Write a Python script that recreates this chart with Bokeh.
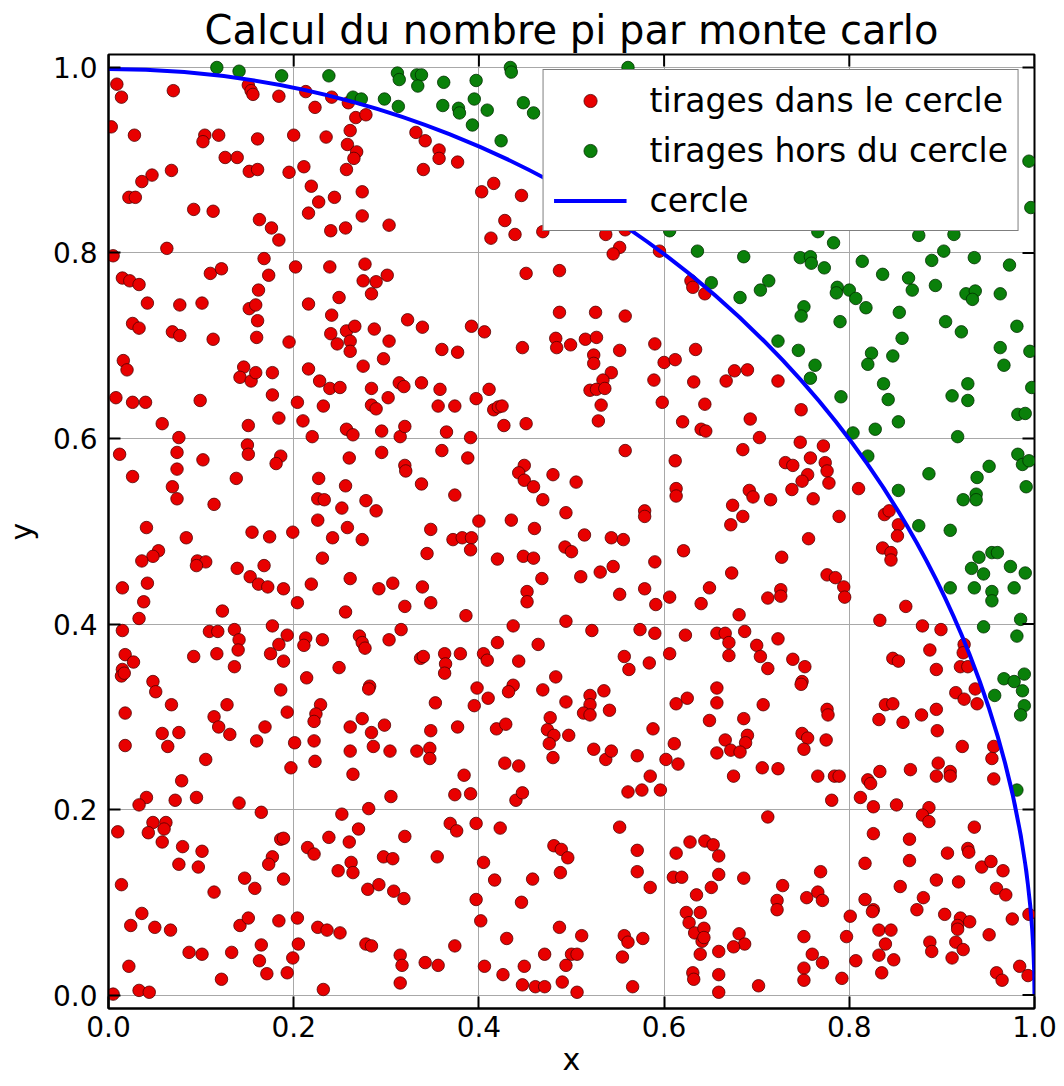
import math
from bokeh.plotting import figure
from bokeh.models import Range1d, FixedTicker
from bokeh.embed import file_html
from bokeh.resources import INLINE

title_text = "Calcul du nombre pi par monte carlo"
x_label = "x"
y_label = "y"
tick_values = [0.0, 0.2, 0.4, 0.6, 0.8, 1.0]
tick_labels = ["0.0", "0.2", "0.4", "0.6", "0.8", "1.0"]
label_in = "tirages dans le cercle"
label_out = "tirages hors du cercle"
label_circle = "cercle"
circle_center = [0.0, 0.0]
circle_radius = 1.0
x_limits = [0.0, 1.0]
y_limits = [-0.0145, 1.0140]

# draws inside the quarter circle (x, y)
inside_points = [
    (0.009,0.982),(0.014,0.968),(0.003,0.936),(0.070,0.975),(0.151,0.981),(0.154,0.975),(0.156,0.971),(0.184,0.969),
    (0.213,0.974),(0.241,0.968),(0.259,0.962),(0.223,0.957),(0.267,0.946),(0.278,0.949),(0.028,0.927),(0.104,0.927),
    (0.102,0.920),(0.119,0.927),(0.161,0.923),(0.200,0.927),(0.235,0.925),(0.261,0.932),(0.258,0.917),(0.268,0.909),
    (0.265,0.902),(0.126,0.903),(0.139,0.903),(0.152,0.888),(0.161,0.890),(0.195,0.887),(0.211,0.893),(0.257,0.890),
    (0.068,0.889),(0.047,0.884),(0.036,0.877),(0.022,0.860),(0.029,0.860),(0.092,0.847),(0.113,0.845),(0.219,0.872),
    (0.244,0.860),(0.274,0.866),(0.227,0.855),(0.216,0.843),(0.163,0.836),(0.176,0.827),(0.184,0.814),(0.240,0.824),
    (0.256,0.827),(0.274,0.840),(0.303,0.830),(0.063,0.805),(0.005,0.797),(0.168,0.794),(0.202,0.785),
    (0.239,0.785),(0.277,0.788),(0.110,0.778),(0.122,0.783),(0.173,0.776),(0.301,0.776),(0.275,0.770),(0.289,0.769),
    (0.015,0.773),(0.023,0.770),(0.033,0.766),(0.162,0.760),(0.284,0.756),(0.249,0.752),
    (0.332,0.930),(0.342,0.921),(0.357,0.911),(0.357,0.902),(0.377,0.898),(0.340,0.890),(0.416,0.875),(0.403,0.866),
    (0.446,0.862),(0.428,0.835),(0.413,0.816),(0.439,0.820),(0.469,0.823),(0.537,0.820),(0.558,0.825),(0.552,0.806),
    (0.545,0.799),(0.595,0.802),(0.451,0.778),(0.487,0.781),(0.629,0.770),(0.631,0.763),(0.644,0.756),
    (0.042,0.746),(0.077,0.744),(0.101,0.746),(0.152,0.740),(0.159,0.744),(0.216,0.745),
    (0.026,0.724),(0.033,0.719),(0.069,0.715),(0.077,0.711),(0.113,0.707),(0.161,0.727),(0.160,0.709),(0.195,0.704),
    (0.241,0.733),(0.240,0.713),(0.257,0.716),(0.266,0.721),(0.247,0.702),(0.261,0.705),(0.261,0.694),(0.287,0.718),
    (0.303,0.705),(0.323,0.728),
    (0.016,0.684),(0.020,0.674),(0.146,0.677),(0.142,0.666),(0.154,0.662),(0.159,0.671),(0.177,0.671),(0.216,0.675),
    (0.228,0.662),(0.239,0.654),(0.250,0.655),(0.275,0.678),(0.297,0.686),(0.314,0.660),(0.319,0.656),
    (0.008,0.644),(0.026,0.639),(0.040,0.639),(0.099,0.641),(0.177,0.647),(0.204,0.639),(0.232,0.635),(0.284,0.654),
    (0.302,0.644),(0.284,0.636),(0.289,0.632),
    (0.058,0.616),(0.151,0.614),(0.184,0.622),(0.210,0.619),(0.220,0.602),(0.257,0.610),(0.264,0.604),(0.295,0.608),
    (0.315,0.602),(0.320,0.613),(0.076,0.601),
    (0.012,0.583),(0.074,0.585),(0.102,0.577),(0.150,0.593),(0.151,0.583),(0.186,0.581),(0.181,0.573),(0.260,0.579),
    (0.295,0.585),(0.320,0.571),(0.321,0.565),
    (0.026,0.559),(0.074,0.567),(0.138,0.557),(0.227,0.557),(0.256,0.549),(0.069,0.548),(0.074,0.535),(0.114,0.529),
    (0.226,0.535),(0.233,0.534),(0.252,0.525),(0.278,0.533),(0.289,0.522),
    (0.041,0.504),(0.226,0.512),(0.258,0.504),(0.084,0.493),(0.155,0.499),(0.174,0.494),(0.199,0.499),(0.242,0.493),
    (0.274,0.491),
    (0.339,0.720),(0.392,0.721),(0.406,0.715),(0.360,0.696),(0.377,0.693),(0.447,0.698),(0.487,0.736),(0.526,0.736),
    (0.558,0.732),(0.483,0.708),(0.484,0.698),(0.499,0.701),(0.515,0.707),(0.527,0.709),(0.552,0.695),(0.590,0.702),
    (0.634,0.696),(0.524,0.690),(0.524,0.681),(0.543,0.671),(0.534,0.663),(0.520,0.652),(0.527,0.653),(0.536,0.654),
    (0.532,0.636),(0.529,0.619),(0.600,0.682),(0.612,0.685),(0.589,0.663),(0.598,0.639),(0.632,0.661),
    (0.644,0.637),(0.620,0.618),(0.640,0.610),(0.645,0.608),(0.338,0.660),(0.358,0.653),(0.356,0.635),(0.374,0.635),
    (0.397,0.643),(0.411,0.653),(0.416,0.631),(0.421,0.634),(0.425,0.635),(0.427,0.614),(0.451,0.616),(0.365,0.607),
    (0.391,0.601),(0.360,0.587),(0.388,0.579),(0.558,0.587),(0.612,0.576),(0.338,0.551),(0.374,0.539),(0.449,0.571),
    (0.443,0.563),(0.449,0.555),(0.459,0.548),(0.480,0.561),(0.505,0.553),(0.469,0.534),(0.494,0.520),(0.579,0.522),
    (0.579,0.516),(0.613,0.546),(0.613,0.538),(0.348,0.502),(0.400,0.511),(0.435,0.512),(0.460,0.503),(0.372,0.491),
    (0.382,0.493),(0.392,0.493),(0.514,0.496),(0.543,0.493),(0.556,0.491),
    (0.676,0.673),(0.690,0.674),(0.667,0.662),(0.723,0.662),(0.748,0.631),(0.693,0.621),(0.703,0.601),
    (0.685,0.588),(0.747,0.596),(0.772,0.592),(0.731,0.574),(0.739,0.571),(0.758,0.579),(0.774,0.574),(0.776,0.565),
    (0.778,0.552),(0.755,0.561),(0.749,0.554),(0.738,0.545),(0.692,0.544),(0.696,0.537),(0.715,0.534),(0.761,0.535),
    (0.810,0.546),(0.674,0.528),(0.685,0.516),(0.672,0.507),(0.789,0.516),(0.838,0.518),(0.843,0.522),(0.853,0.507),
    (0.852,0.495),(0.756,0.492),
    (0.054,0.479),(0.048,0.473),(0.036,0.468),(0.096,0.468),(0.105,0.467),(0.095,0.463),(0.139,0.460),(0.168,0.463),
    (0.231,0.471),(0.153,0.451),(0.162,0.443),(0.172,0.440),(0.189,0.438),(0.219,0.443),(0.261,0.449),(0.292,0.438),
    (0.307,0.444),(0.015,0.439),(0.042,0.444),(0.038,0.424),(0.033,0.406),(0.123,0.414),(0.204,0.423),(0.256,0.413),
    (0.320,0.419),
    (0.015,0.393),(0.109,0.392),(0.118,0.392),(0.136,0.394),(0.177,0.398),(0.193,0.388),(0.141,0.383),(0.140,0.372),
    (0.184,0.378),(0.175,0.368),(0.189,0.360),(0.213,0.385),(0.211,0.377),(0.231,0.383),(0.271,0.387),(0.274,0.380),
    (0.277,0.374),(0.303,0.383),(0.316,0.394),
    (0.018,0.367),(0.027,0.359),(0.092,0.365),(0.117,0.368),(0.136,0.354),(0.015,0.351),(0.014,0.344),(0.017,0.347),
    (0.249,0.353),(0.048,0.338),(0.051,0.327),(0.186,0.329),(0.214,0.342),(0.282,0.333),(0.281,0.330),
    (0.068,0.313),(0.128,0.313),(0.018,0.304),(0.114,0.300),(0.193,0.305),(0.229,0.313),(0.224,0.303),(0.222,0.295),
    (0.274,0.298),(0.058,0.282),(0.076,0.283),(0.119,0.289),(0.131,0.281),(0.169,0.289),(0.160,0.274),(0.201,0.272),
    (0.222,0.274),(0.261,0.289),(0.284,0.283),(0.298,0.291),
    (0.018,0.269),(0.064,0.268),(0.286,0.268),(0.261,0.263),(0.304,0.263),(0.105,0.254),(0.223,0.252),(0.197,0.245),
    (0.264,0.238),(0.079,0.231),
    (0.391,0.480),(0.344,0.476),(0.420,0.470),(0.448,0.473),(0.459,0.471),(0.493,0.483),(0.500,0.478),(0.621,0.479),
    (0.590,0.467),(0.468,0.449),(0.510,0.451),(0.531,0.456),(0.545,0.462),(0.339,0.440),(0.348,0.423),(0.386,0.409),
    (0.452,0.435),(0.452,0.424),(0.552,0.432),(0.579,0.438),(0.591,0.421),(0.606,0.429),(0.649,0.439),(0.640,0.422),
    (0.437,0.398),(0.494,0.403),(0.522,0.393),(0.574,0.394),(0.590,0.390),(0.623,0.388),(0.657,0.390),(0.420,0.380),
    (0.464,0.378),(0.337,0.363),(0.340,0.365),(0.363,0.368),(0.364,0.357),(0.363,0.347),(0.380,0.368),(0.405,0.368),
    (0.409,0.361),(0.443,0.360),(0.557,0.365),(0.562,0.351),(0.584,0.358),(0.606,0.368),
    (0.483,0.343),(0.398,0.331),(0.410,0.320),(0.437,0.334),(0.432,0.327),(0.469,0.329),(0.535,0.328),(0.520,0.323),
    (0.520,0.313),(0.513,0.304),(0.520,0.302),(0.541,0.307),(0.494,0.316),(0.353,0.315),(0.395,0.312),(0.613,0.314),
    (0.625,0.320),(0.657,0.331),(0.657,0.315),
    (0.348,0.285),(0.377,0.289),(0.419,0.287),(0.429,0.292),(0.477,0.299),(0.474,0.286),(0.481,0.280),(0.497,0.280),
    (0.476,0.271),(0.588,0.287),(0.649,0.296),(0.333,0.263),(0.347,0.266),(0.347,0.255),(0.428,0.250),(0.443,0.247),
    (0.480,0.256),(0.524,0.265),(0.537,0.254),(0.543,0.263),(0.571,0.258),(0.602,0.254),(0.615,0.249),(0.611,0.271),
    (0.657,0.261),(0.384,0.237),(0.585,0.236),
    (0.727,0.472),(0.673,0.455),(0.776,0.453),(0.785,0.450),(0.794,0.440),(0.795,0.429),(0.712,0.428),(0.726,0.437),
    (0.726,0.430),(0.681,0.410),(0.836,0.482),(0.845,0.477),(0.845,0.469),(0.861,0.419),(0.833,0.404),(0.879,0.398),
    (0.899,0.394),(0.924,0.378),
    (0.666,0.390),(0.670,0.380),(0.670,0.366),(0.687,0.392),(0.700,0.377),(0.704,0.365),(0.712,0.352),(0.723,0.384),
    (0.739,0.362),(0.752,0.354),(0.749,0.338),(0.748,0.335),(0.847,0.363),(0.853,0.360),(0.887,0.372),(0.923,0.369),
    (0.920,0.354),(0.928,0.354),(0.894,0.351),(0.936,0.330),(0.915,0.326),(0.924,0.319),(0.938,0.314),
    (0.707,0.313),(0.839,0.313),(0.847,0.314),(0.832,0.297),(0.858,0.294),(0.878,0.302),(0.894,0.308),(0.776,0.308),
    (0.777,0.302),(0.686,0.298),(0.666,0.275),(0.690,0.280),(0.688,0.272),(0.672,0.264),(0.682,0.262),(0.749,0.282),
    (0.755,0.277),(0.751,0.265),(0.775,0.275),(0.895,0.285),(0.922,0.268),(0.956,0.268),(0.954,0.255),
    (0.706,0.245),(0.723,0.244),(0.675,0.236),(0.766,0.236),(0.784,0.236),(0.789,0.236),(0.833,0.241),(0.866,0.243),
    (0.896,0.250),(0.909,0.241),(0.909,0.236),(0.956,0.233),(0.820,0.232),(0.894,0.236),
    (0.041,0.213),(0.033,0.205),(0.072,0.210),(0.095,0.213),(0.141,0.207),(0.165,0.197),(0.305,0.214),(0.281,0.201),
    (0.252,0.195),(0.010,0.176),(0.048,0.186),(0.062,0.186),(0.060,0.179),(0.043,0.175),(0.058,0.165),(0.080,0.160),
    (0.101,0.155),(0.076,0.141),(0.097,0.138),(0.186,0.168),(0.189,0.169),(0.177,0.149),(0.173,0.141),(0.215,0.159),
    (0.222,0.152),(0.238,0.170),(0.260,0.165),(0.270,0.179),(0.320,0.171),(0.262,0.143),(0.248,0.134),(0.264,0.132),
    (0.297,0.149),(0.307,0.147),
    (0.014,0.119),(0.114,0.111),(0.147,0.126),(0.158,0.115),(0.189,0.125),(0.280,0.114),(0.292,0.119),(0.308,0.112),
    (0.319,0.104),(0.036,0.088),(0.024,0.075),(0.050,0.073),(0.067,0.070),(0.142,0.075),(0.151,0.083),(0.184,0.080),
    (0.204,0.083),(0.226,0.073),(0.236,0.070),(0.250,0.067),(0.278,0.055),(0.284,0.053),
    (0.087,0.046),(0.101,0.044),(0.133,0.046),(0.165,0.054),(0.163,0.037),(0.199,0.040),(0.205,0.055),(0.315,0.043),
    (0.317,0.032),(0.022,0.031),(0.122,0.017),(0.171,0.023),(0.193,0.024),(0.315,0.013),(0.033,0.005),(0.044,0.003),
    (0.232,0.006),(0.005,0.001),
    (0.374,0.216),(0.391,0.217),(0.440,0.210),(0.447,0.218),(0.561,0.219),(0.576,0.221),(0.596,0.221),(0.369,0.185),
    (0.376,0.177),(0.397,0.185),(0.423,0.180),(0.552,0.181),(0.355,0.149),(0.405,0.143),(0.481,0.161),(0.489,0.157),
    (0.496,0.148),(0.488,0.132),(0.417,0.124),(0.458,0.125),(0.571,0.156),(0.571,0.133),(0.585,0.116),(0.397,0.103),
    (0.446,0.100),(0.402,0.080),(0.487,0.073),(0.511,0.064),(0.430,0.061),(0.557,0.064),(0.561,0.057),(0.577,0.061),
    (0.374,0.053),(0.471,0.044),(0.500,0.044),(0.506,0.044),(0.555,0.041),(0.494,0.032),(0.449,0.031),(0.342,0.035),
    (0.356,0.032),(0.406,0.031),(0.426,0.022),(0.447,0.011),(0.461,0.009),(0.471,0.009),(0.490,0.014),(0.506,0.003),
    (0.566,0.009),
    (0.613,0.153),(0.628,0.165),(0.644,0.166),(0.653,0.162),(0.659,0.150),(0.610,0.127),(0.619,0.127),(0.659,0.130),
    (0.635,0.108),(0.651,0.116),(0.624,0.089),(0.627,0.078),(0.639,0.089),(0.633,0.067),(0.643,0.072),(0.641,0.058),
    (0.643,0.062),(0.639,0.044),(0.659,0.047),(0.631,0.024),(0.632,0.017),(0.659,0.022),(0.659,0.003),
    (0.823,0.228),(0.781,0.210),(0.812,0.213),(0.826,0.203),(0.851,0.205),(0.886,0.202),(0.879,0.194),(0.886,0.187),
    (0.712,0.192),(0.935,0.181),(0.826,0.174),(0.865,0.168),(0.906,0.153),(0.928,0.158),(0.929,0.154),
    (0.817,0.142),(0.865,0.145),(0.943,0.138),(0.953,0.144),(0.966,0.134),(0.686,0.126),(0.769,0.133),
    (0.728,0.118),(0.855,0.117),(0.894,0.124),(0.918,0.122),(0.959,0.115),(0.969,0.108),
    (0.722,0.102),(0.722,0.092),(0.754,0.105),(0.766,0.111),(0.771,0.102),(0.817,0.103),(0.826,0.092),(0.825,0.090),
    (0.880,0.105),(0.873,0.092),(0.903,0.087),(0.920,0.083),(0.917,0.075),(0.930,0.079),(0.917,0.071),(0.976,0.082),
    (0.801,0.085),(0.797,0.063),(0.832,0.070),(0.845,0.070),(0.839,0.055),(0.681,0.066),(0.687,0.055),(0.675,0.052),
    (0.751,0.063),(0.887,0.057),(0.889,0.047),(0.915,0.057),(0.923,0.049),(0.951,0.065),(0.760,0.044),(0.771,0.035),
    (0.807,0.037),(0.832,0.043),(0.848,0.038),(0.911,0.040),(0.751,0.029),(0.751,0.016),(0.792,0.018),(0.835,0.024),
    (0.702,0.010),(0.959,0.024),(0.965,0.016),(0.984,0.031),(0.993,0.021),(0.994,0.087),
]

# draws outside the quarter circle (x, y)
outside_points = [
    (0.117,1.000),(0.141,0.996),(0.187,0.991),(0.238,0.991),(0.312,0.994),(0.314,0.987),(0.298,0.966),(0.313,0.958),
    (0.264,0.968),(0.273,0.966),
    (0.333,0.992),(0.338,0.992),(0.334,0.980),(0.362,0.984),(0.397,0.986),(0.434,1.000),(0.435,0.995),(0.395,0.966),
    (0.361,0.959),(0.378,0.956),(0.379,0.951),(0.409,0.954),(0.393,0.938),(0.448,0.962),(0.459,0.951),(0.424,0.921),
    (0.561,1.000),(0.606,0.824),(0.636,0.802),(0.651,0.768),
    (0.994,0.899),(0.996,0.849),(0.875,0.819),(0.913,0.820),(0.783,0.811),(0.766,0.823),(0.686,0.796),(0.747,0.795),
    (0.758,0.796),(0.759,0.789),(0.773,0.784),(0.814,0.791),(0.889,0.792),(0.902,0.802),(0.935,0.795),(0.973,0.787),
    (0.836,0.777),(0.864,0.773),(0.868,0.760),(0.893,0.765),(0.713,0.770),(0.704,0.760),(0.682,0.752),(0.787,0.763),
    (0.786,0.757),(0.800,0.760),(0.807,0.751),(0.926,0.756),(0.936,0.759),(0.963,0.756),(0.933,0.750),
    (0.751,0.742),(0.748,0.732),(0.818,0.741),(0.854,0.736),(0.904,0.726),(0.790,0.726),(0.921,0.715),(0.981,0.721),
    (0.723,0.705),(0.745,0.695),(0.857,0.708),(0.824,0.692),(0.820,0.680),(0.847,0.689),(0.963,0.698),(0.967,0.679),
    (0.995,0.694),(0.763,0.679),(0.758,0.665),(0.837,0.659),(0.842,0.642),(0.791,0.645),(0.911,0.646),(0.928,0.659),
    (0.928,0.641),(0.997,0.655),(0.982,0.626),(0.990,0.627),(0.853,0.618),(0.828,0.610),(0.804,0.606),(0.917,0.602),
    (0.820,0.581),(0.886,0.562),(0.951,0.570),(0.938,0.558),(0.982,0.583),(0.987,0.572),(0.994,0.576),(0.991,0.548),
    (0.853,0.544),(0.923,0.534),(0.937,0.540),(0.937,0.534),(0.875,0.506),(0.909,0.501),
    (0.909,0.439),(0.932,0.460),(0.940,0.472),(0.954,0.477),(0.960,0.477),(0.974,0.462),(0.990,0.455),(0.935,0.439),
    (0.945,0.454),(0.954,0.435),(0.954,0.425),(0.978,0.439),(0.945,0.397),(0.985,0.405),(0.981,0.387),(0.967,0.341),
    (0.978,0.338),(0.989,0.346),(0.987,0.328),(0.957,0.323),(0.989,0.312),(0.985,0.302),
    (0.981,0.221),
]

in_x = [pt[0] for pt in inside_points]
in_y = [pt[1] for pt in inside_points]
out_x = [pt[0] for pt in outside_points]
out_y = [pt[1] for pt in outside_points]

FONT = "DejaVu Sans"

p = figure(width=1064, height=1086,
           x_range=Range1d(*x_limits), y_range=Range1d(*y_limits),
           output_backend="svg", toolbar_location=None,
           min_border_left=106, min_border_right=30, min_border_top=54, min_border_bottom=78)

p.title.text = title_text
p.title.text_font = FONT
p.title.text_font_size = "40px"
p.title.text_font_style = "normal"
p.title.text_color = "black"
p.title.align = "center"
p.title.standoff = 3

p.background_fill_color = "white"
p.border_fill_color = "white"
p.outline_line_color = "black"
p.outline_line_width = 2

p.scatter(in_x, in_y, size=12.5, fill_color="#e80000", line_color="#500000",
          line_width=0.8, legend_label=label_in)
p.scatter(out_x, out_y, size=12.5, fill_color="#0a800a", line_color="#003000",
          line_width=0.8, legend_label=label_out)
p.arc(x=[circle_center[0]], y=[circle_center[1]], radius=circle_radius,
      start_angle=0, end_angle=math.pi / 2, line_color="#0000ff", line_width=4,
      legend_label=label_circle)

# inward ticks on the top and right edges (half of each dash is clipped by the frame)
n_ticks = len(tick_values)
p.scatter(tick_values, [y_limits[1]] * n_ticks, marker="dash", angle=math.pi / 2,
          size=24, line_color="black", line_width=2)
p.scatter([x_limits[1]] * n_ticks, tick_values, marker="dash",
          size=24, line_color="black", line_width=2)

overrides = dict(zip(tick_values, tick_labels))
for ax in (p.xaxis[0], p.yaxis[0]):
    ax.ticker = FixedTicker(ticks=tick_values)
    ax.major_label_overrides = overrides
    ax.major_label_text_font = FONT
    ax.major_label_text_font_size = "28px"
    ax.major_label_text_color = "black"
    ax.axis_label_text_font = FONT
    ax.axis_label_text_font_size = "30px"
    ax.axis_label_text_font_style = "normal"
    ax.axis_label_text_color = "black"
    ax.axis_line_color = "black"
    ax.axis_line_width = 2
    ax.major_tick_in = 12
    ax.major_tick_out = 0
    ax.major_tick_line_color = "black"
    ax.major_tick_line_width = 2
    ax.minor_tick_in = 0
    ax.minor_tick_out = 0

p.xaxis[0].axis_label = x_label
p.yaxis[0].axis_label = y_label
p.xaxis[0].major_label_standoff = 7
p.xaxis[0].axis_label_standoff = 2
p.yaxis[0].major_label_standoff = 11
p.yaxis[0].axis_label_standoff = 11

for g in (p.xgrid[0], p.ygrid[0]):
    g.ticker = FixedTicker(ticks=tick_values)
    g.grid_line_color = "#a8a8a8"
    g.grid_line_width = 1

lg = p.legend[0]
lg.location = "top_right"
lg.margin = 15
lg.padding = 10
lg.spacing = 10
lg.glyph_width = 73
lg.glyph_height = 33
lg.label_height = 40
lg.label_standoff = 23
lg.label_text_font = FONT
lg.label_text_font_size = "33px"
lg.label_text_color = "black"
lg.border_line_color = "black"
lg.border_line_width = 1.5
lg.background_fill_color = "white"
lg.background_fill_alpha = 1.0

open("out.html", "w").write(file_html(p, INLINE))
